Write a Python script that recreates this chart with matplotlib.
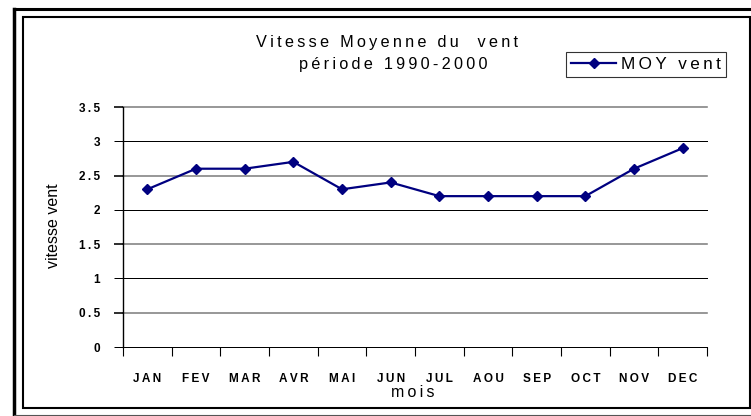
import matplotlib
matplotlib.use('Agg')
import matplotlib.pyplot as plt
from matplotlib.patches import Rectangle
from matplotlib.lines import Line2D

plt.rcParams['font.family'] = ['Liberation Sans', 'DejaVu Sans']

# ── données ──
mois = ['JAN', 'FEV', 'MAR', 'AVR', 'MAI', 'JUN', 'JUL', 'AOU', 'SEP', 'OCT', 'NOV', 'DEC']
vitesse = [2.3, 2.6, 2.6, 2.7, 2.3, 2.4, 2.2, 2.2, 2.2, 2.2, 2.6, 2.9]
yticks = [0, 0.5, 1, 1.5, 2, 2.5, 3, 3.5]
ytick_labels = ['0', '0.5', '1', '1.5', '2', '2.5', '3', '3.5']

NAVY = '#000080'
TS = '\u2009'  # espacement des lettres (style Excel)


def sp(s):
    return TS.join(s)


W, H = 751, 416
fig = plt.figure(figsize=(W / 100, H / 100), dpi=100)

# cadres
fig.patches.append(Rectangle((23 / W, 1 - 408 / H), (750 - 23) / W, (408 - 17) / H,
                             transform=fig.transFigure, fill=False, ec='black', lw=1.5))
fig.add_artist(Line2D([13.5 / W, 13.5 / W], [0, 1 - 9 / H], transform=fig.transFigure,
                      color='black', lw=2.5))
fig.add_artist(Line2D([13.5 / W, 1], [1 - 9 / H, 1 - 9 / H], transform=fig.transFigure,
                      color='black', lw=2.2))
fig.add_artist(Line2D([13.5 / W, 1], [1 - 414.5 / H, 1 - 414.5 / H], transform=fig.transFigure,
                      color='#555555', lw=0.8))

ax = fig.add_axes([123 / W, 1 - 347 / H, (707 - 123) / W, (347 - 107) / H])
x = list(range(len(mois)))
line, = ax.plot(x, vitesse, color=NAVY, lw=1.6, marker='D', ms=5.4,
                mfc=NAVY, mec=NAVY, label='MOY vent', zorder=5)

ax.set_xlim(-0.5, len(mois) - 0.5)
ax.set_ylim(0, 3.5)

for s in ['top', 'right', 'bottom']:
    ax.spines[s].set_visible(False)
ax.spines['left'].set_linewidth(1.0)
ax.spines['left'].set_color('black')

# grille horizontale (alternance gris / noir)
ax.set_yticks(yticks)
ax.set_yticklabels([sp(t) for t in ytick_labels], fontsize=8.5, fontweight='bold')
ax.tick_params(axis='y', direction='out', length=6.5, pad=10)
for i, yv in enumerate(yticks):
    col = 'black' if i % 2 == 0 else '#808080'
    lw = 1.0 if i % 2 == 0 else 1.6
    ax.axhline(yv, color=col, lw=lw * 0.72, zorder=1, clip_on=False)
    tk = ax.yaxis.get_major_ticks()[i]
    tk.tick1line.set_color(col)
    tk.tick1line.set_markeredgewidth(lw * 0.72)

# graduations de catégories
ax.set_xticks(x)
ax.set_xticklabels([sp(m) for m in mois], fontsize=8.5, fontweight='bold')
ax.set_xticks([i - 0.5 for i in range(len(mois) + 1)], minor=True)
ax.tick_params(axis='x', which='major', length=0, pad=18.5)
ax.tick_params(axis='x', which='minor', direction='out', length=6.5, width=0.8, color='black')

ax.set_ylabel('vitesse vent', fontsize=11.5)
ax.yaxis.set_label_coords(-0.106, 0.505)
ax.set_xlabel(sp('mois'), fontsize=11.5)
ax.xaxis.set_label_coords(0.497, -0.158)

fig.text(387 / W, 1 - 42 / H, sp('Vitesse Moyenne du  vent'), ha='center', va='center', fontsize=11.7)
fig.text(393 / W, 1 - 65 / H, sp('période 1990-2000'), ha='center', va='center', fontsize=11.7)

leg = ax.legend(handles=[line], labels=[sp('MOY vent')], loc='center',
                bbox_to_anchor=(646 / W, 1 - 64.5 / H), bbox_transform=fig.transFigure,
                fancybox=False, frameon=True, edgecolor='black', fontsize=12.3,
                handlelength=2.6, handletextpad=0.3, borderpad=0.3, borderaxespad=0)
leg.get_frame().set_linewidth(0.8)

fig.savefig('out.png', dpi=100, facecolor='white')
